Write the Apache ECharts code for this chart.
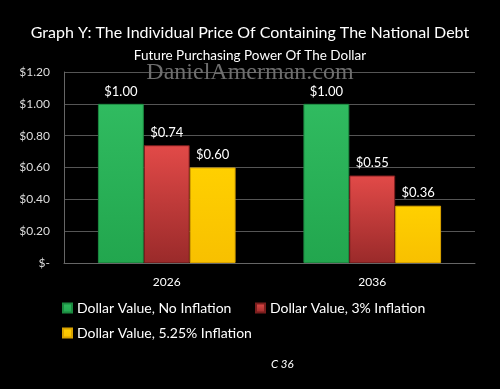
<!DOCTYPE html>
<html><head><meta charset="utf-8">
<script src="https://cdn.jsdelivr.net/npm/echarts@6/dist/echarts.min.js"></script>
<style>html,body{margin:0;padding:0;background:#000}#c{width:500px;height:389px}</style>
</head><body><div id="c"></div>
<script>
const categories = ['2026', '2036'];
const seriesNames = ['Dollar Value, No Inflation', 'Dollar Value, 3% Inflation', 'Dollar Value, 5.25% Inflation'];
const noInflation = [1.00, 1.00];
const inflation3 = [0.74, 0.55];
const inflation525 = [0.60, 0.36];
const yTicks = [0, 0.2, 0.4, 0.6, 0.8, 1.0, 1.2];

const font = 'Lato, Open Sans, sans-serif';
function grad(top, bottom) {
  return new echarts.graphic.LinearGradient(0, 0, 0, 1, [{offset: 0, color: top}, {offset: 1, color: bottom}]);
}
function lbl(v) { return v === 0 ? '$-' : '$' + v.toFixed(2); }
const colors = [
  {fill: grad('#30bb60', '#22a64e'), border: '#1c8a40', icon: '#2db55d'},
  {fill: grad('#e24a48', '#9a2a2a'), border: '#7a1e1e', icon: '#d64040'},
  {fill: grad('#ffd000', '#f8c000'), border: '#d9a300', icon: '#ffcc00'}
];
const data = [noInflation, inflation3, inflation525];
const legendText = {color: '#fff', fontSize: 14, fontFamily: font};
const legendPos = [[57, 296], [250, 296], [57, 321]];

const chart = echarts.init(document.getElementById('c'));
chart.setOption({
  backgroundColor: '#000',
  animation: false,
  title: [
    {text: 'Graph Y: The Individual Price Of Containing The National Debt', left: 'center', top: 20,
     textStyle: {color: '#fff', fontSize: 16, fontWeight: 'normal', fontFamily: font}},
    {text: 'Future Purchasing Power Of The Dollar', left: 'center', top: 44,
     textStyle: {color: '#fff', fontSize: 13.5, fontWeight: 'normal', fontFamily: font}},
    {text: 'DanielAmerman.com', left: 'center', top: 56,
     textStyle: {color: '#6e6e6e', fontSize: 24, fontWeight: 'normal', fontFamily: 'Liberation Serif, DejaVu Serif, serif'}},
    {text: 'C 36', left: 266, top: 353,
     textStyle: {color: '#fff', fontSize: 11.5, fontStyle: 'italic', fontWeight: 'normal', fontFamily: font}}
  ],
  grid: {left: 64, right: 25, top: 72, bottom: 126},
  legend: seriesNames.map((n, i) => ({
    data: [n], left: legendPos[i][0], top: legendPos[i][1],
    itemWidth: 9, itemHeight: 9, icon: 'rect', textStyle: legendText
  })),
  xAxis: {
    type: 'category', data: categories,
    axisLine: {show: true, lineStyle: {color: '#666'}},
    axisTick: {show: false},
    axisLabel: {color: '#fff', fontSize: 12, fontFamily: font, margin: 13}
  },
  yAxis: {
    type: 'value', min: 0, max: 1.2, interval: 0.2,
    axisLine: {show: true, lineStyle: {color: '#666'}},
    axisTick: {show: false},
    splitLine: {lineStyle: {color: '#555'}},
    axisLabel: {color: '#ddd', fontSize: 12, fontFamily: font, margin: 14,
      formatter: function (v) { return lbl(v); }}
  },
  series: seriesNames.map((n, i) => ({
    name: n, type: 'bar', data: data[i],
    barGap: '0%', barCategoryGap: '33%',
    itemStyle: {color: colors[i].fill, borderColor: colors[i].border, borderWidth: 1},
    label: {show: true, position: 'top', distance: 6, color: '#fff', fontSize: 13, fontFamily: font,
      formatter: p => '$' + p.value.toFixed(2)}
  })),
  color: colors.map(c => c.icon)
});
</script></body></html>
